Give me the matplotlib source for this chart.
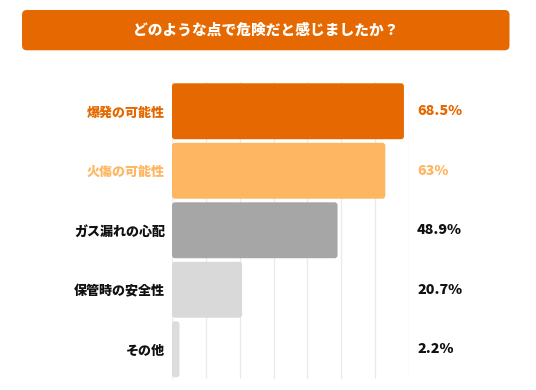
import matplotlib
matplotlib.use("Agg")
import matplotlib.pyplot as plt
from matplotlib.patches import FancyBboxPatch
from matplotlib.transforms import blended_transform_factory

plt.rcParams['font.family'] = ['Noto Sans CJK JP', 'DejaVu Sans']

title = "どのような点で危険だと感じましたか？"
categories = ["爆発の可能性", "火傷の可能性", "ガス漏れの心配", "保管時の安全性", "その他"]
values = [68.5, 63.0, 48.9, 20.7, 2.2]
value_labels = ["68.5%", "63%", "48.9%", "20.7%", "2.2%"]
bar_colors = ["#E56800", "#FEB662", "#A6A6A6", "#D9D9D9", "#DCDCDC"]
label_colors = ["#E56800", "#FEB662", "#111111", "#111111", "#111111"]
x_ticks = [0, 10, 20, 30, 40, 50, 60, 70]

W, H = 536, 390
fig = plt.figure(figsize=(W / 100, H / 100), dpi=100)

# Title banner
x0, x1, y0, y1 = 22, 509.5, 10, 50.3
banner = FancyBboxPatch((x0 / W, 1 - y1 / H), (x1 - x0) / W, (y1 - y0) / H,
                        boxstyle="round,pad=0,rounding_size=0.009",
                        transform=fig.transFigure, facecolor="#E56800",
                        edgecolor="none", mutation_aspect=W / H)
fig.patches.append(banner)
fig.text((x0 + x1) / 2 / W, 1 - 30.5 / H, title, color="white", fontsize=10.6,
         fontweight="heavy", ha="center", va="center")

ax_left, ax_right = 172, 409
ax_top, ax_bottom = 81.5, 379
ax = fig.add_axes([ax_left / W, 1 - ax_bottom / H, (ax_right - ax_left) / W,
                   (ax_bottom - ax_top) / H])

ypos = list(range(len(categories)))
bars = ax.barh(ypos, values, height=0.94, color=bar_colors)

# Replace with rounded bars
px_per_x = (ax_right - ax_left) / (x_ticks[-1] - x_ticks[0])
px_per_y = (ax_bottom - ax_top) / len(categories)
r_px = 3.0
for b, c in zip(bars, bar_colors):
    b.set_visible(False)
    rp = FancyBboxPatch((b.get_x(), b.get_y()), b.get_width(), b.get_height(),
                        boxstyle=f"round,pad=0,rounding_size={r_px / px_per_x}",
                        mutation_aspect=px_per_x / px_per_y,
                        facecolor=c, edgecolor="none", zorder=2)
    ax.add_patch(rp)

ax.set_xlim(x_ticks[0], x_ticks[-1])
ax.set_ylim(len(categories) - 0.5, -0.5)
ax.set_xticks(x_ticks)
ax.xaxis.grid(True, color="#EBEBEB", linewidth=1.0, zorder=0)
ax.set_axisbelow(True)
ax.tick_params(axis="x", length=0, labelbottom=False)
ax.set_yticks(ypos)
ax.set_yticklabels(categories, fontsize=9.4, fontweight="heavy")
ax.tick_params(axis="y", length=0, pad=5)
for t, c in zip(ax.get_yticklabels(), label_colors):
    t.set_color(c)
for s in ax.spines.values():
    s.set_visible(False)

trans = blended_transform_factory(ax.transAxes, ax.transData)
for i, (lab, c) in enumerate(zip(value_labels, label_colors)):
    ax.annotate(lab, xy=(1.0, i), xycoords=trans, xytext=(5.8, 0),
                textcoords="offset points", ha="left", va="center",
                fontsize=10.3, fontweight="heavy", color=c)

fig.savefig("out.png", dpi=100)
